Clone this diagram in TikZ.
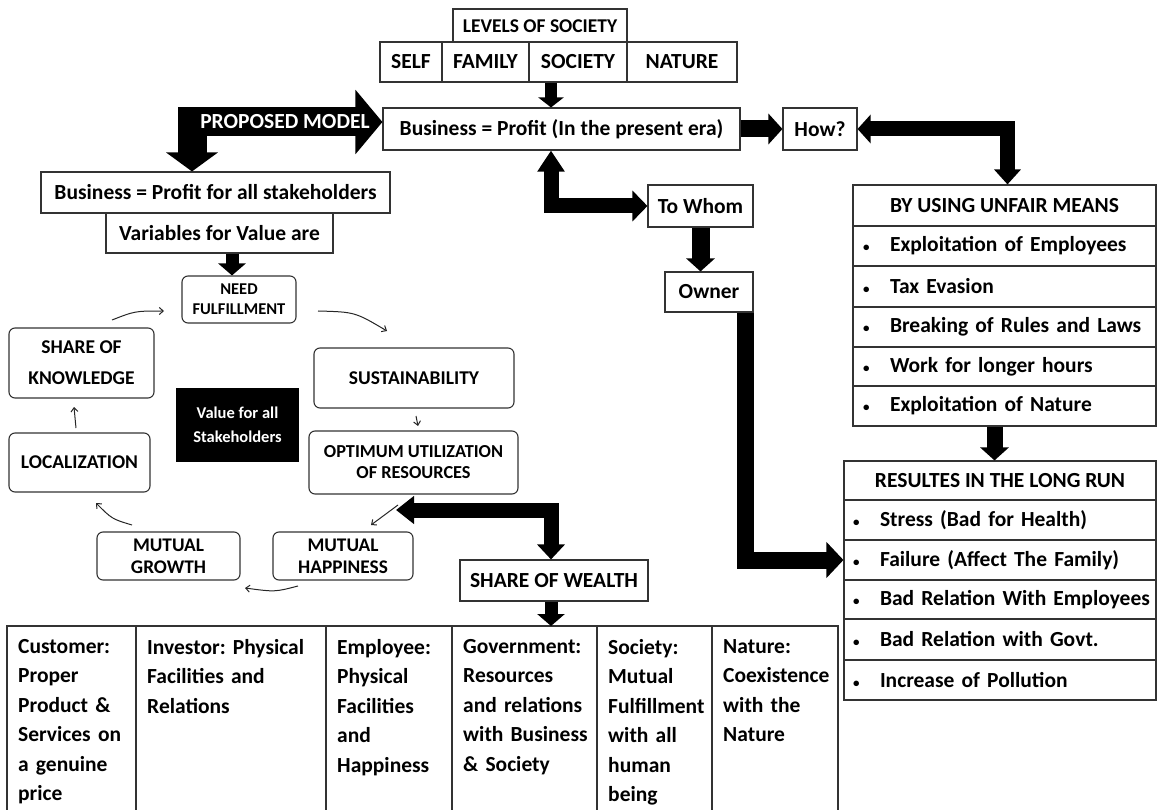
\documentclass[tikz,border=0pt]{standalone}
\usepackage{fontspec}
\setmainfont{Carlito}
\usetikzlibrary{arrows.meta,calc}
\newcommand\bul{{\fontsize{13}{13}\selectfont\textbullet}}
\begin{document}
\frenchspacing
\begin{tikzpicture}[x=1pt,y=-1pt,
  box/.style={draw=black!80,line width=1.1pt,inner sep=0pt,align=center,text=black,fill=white,
    font=\fontsize{21.5}{25}\selectfont\bfseries},
  rbox/.style={box,rounded corners=6pt,font=\fontsize{19.5}{22}\selectfont\bfseries},
  listrow/.style={draw=black!80,line width=1.1pt,inner sep=0pt,align=left,text width=#1,
    font=\fontsize{21.5}{25}\selectfont\bfseries},
  tcell/.style={anchor=north west,inner xsep=11pt,inner ysep=13pt,align=left,text width=200pt,
    font=\fontsize{21.5}{29.5}\selectfont\bfseries},
  fatarr/.style={line width=#1,draw=black,line join=miter},
  cyc/.style={line width=1pt,draw=black!85,-{Straight Barb[length=4pt,width=7pt]}},
  grid/.style={draw=black!80,line width=1.1pt}
]
\useasboundingbox (0,0) rectangle (1157,810);

% ---------- top ----------
\node[box,minimum width=174pt,minimum height=34pt,font=\fontsize{19.5}{22}\selectfont\bfseries] (levels) at (540,26) {LEVELS OF SOCIETY};
\node[box,minimum width=62pt,minimum height=40pt] (self) at (411,62) {SELF};
\node[box,minimum width=87pt,minimum height=40pt] (family) at (485.5,62) {FAMILY};
\node[box,minimum width=98pt,minimum height=40pt] (society) at (578,62) {SOCIETY};
\node[box,minimum width=110pt,minimum height=40pt] (nature) at (682,62) {NATURE};

\node[box,minimum width=357pt,minimum height=42pt] (biz) at (561.5,129) {Business = Profit (In the present era)};
\node[box,minimum width=74pt,minimum height=42pt] (how) at (820,129) {How?};
\node[box,minimum width=105pt,minimum height=42pt] (towhom) at (700.5,206) {To Whom};
\node[box,minimum width=88pt,minimum height=40pt] (owner) at (709,292) {Owner};

\node[box,minimum width=349pt,minimum height=41pt] (pfa) at (215.5,192.5) {Business = Profit for all stakeholders};
\node[box,minimum width=227pt,minimum height=40pt] (vars) at (219.5,233) {Variables for Value are};

% ---------- cycle ----------
\node[rbox,minimum width=114pt,minimum height=47pt,font=\fontsize{16.5}{20}\selectfont\bfseries] (need) at (239,299.5) {NEED\\FULFILLMENT};
\node[rbox,minimum width=145pt,minimum height=70pt,font=\fontsize{19.5}{31}\selectfont\bfseries] (sok) at (81.5,363) {SHARE OF\\KNOWLEDGE};
\node[rbox,minimum width=200pt,minimum height=60pt] (sust) at (414,378) {SUSTAINABILITY};
\node[box,fill=black,draw=black,text=white,minimum width=121pt,minimum height=72pt,font=\fontsize{16.5}{24}\selectfont\bfseries] (val) at (237.5,425) {Value for all\\Stakeholders};
\node[rbox,minimum width=141pt,minimum height=59pt] (loc) at (79.5,462.5) {LOCALIZATION};
\node[rbox,minimum width=209pt,minimum height=63pt,font=\fontsize{18.3}{21}\selectfont\bfseries] (opt) at (413.5,462.5) {OPTIMUM UTILIZATION\\OF RESOURCES};
\node[rbox,minimum width=143pt,minimum height=48pt,font=\fontsize{19.3}{22}\selectfont\bfseries] (mg) at (168.5,556) {MUTUAL\\GROWTH};
\node[rbox,minimum width=140pt,minimum height=48pt,font=\fontsize{19.3}{22}\selectfont\bfseries] (mh) at (343,556) {MUTUAL\\HAPPINESS};

\node[box,minimum width=188pt,minimum height=41pt] (sow) at (554,580.5) {SHARE OF WEALTH};

% ---------- right tables ----------
\node[box,minimum width=303pt,minimum height=41pt] (bu0) at (1004.5,205.5) {BY USING UNFAIR MEANS};
\node[listrow=303pt,minimum height=40pt] (bu1) at (1004.5,246) {\makebox[37pt][l]{\hspace{10pt}\bul}Exploitation of Employees};
\node[listrow=303pt,minimum height=41pt] (bu2) at (1004.5,286.5) {\makebox[37pt][l]{\hspace{10pt}\bul}Tax Evasion};
\node[listrow=303pt,minimum height=40pt] (bu3) at (1004.5,327) {\makebox[37pt][l]{\hspace{10pt}\bul}Breaking of Rules and Laws};
\node[listrow=303pt,minimum height=39pt] (bu4) at (1004.5,366.5) {\makebox[37pt][l]{\hspace{10pt}\bul}Work for longer hours};
\node[listrow=303pt,minimum height=40pt] (bu5) at (1004.5,406) {\makebox[37pt][l]{\hspace{10pt}\bul}Exploitation of Nature};

\node[box,minimum width=312pt,minimum height=39pt] (res0) at (1000,480.5) {RESULTES IN THE LONG RUN};
\node[listrow=312pt,minimum height=40pt] (res1) at (1000,520) {\makebox[36pt][l]{\hspace{9pt}\bul}Stress (Bad for Health)};
\node[listrow=312pt,minimum height=40pt] (res2) at (1000,560) {\makebox[36pt][l]{\hspace{9pt}\bul}Failure (Affect The Family)};
\node[listrow=312pt,minimum height=39pt] (res3) at (1000,599.5) {\makebox[36pt][l]{\hspace{9pt}\bul}Bad Relation With Employees};
\node[listrow=312pt,minimum height=41pt] (res4) at (1000,639.5) {\makebox[36pt][l]{\hspace{9pt}\bul}Bad Relation with Govt.};
\node[listrow=312pt,minimum height=40pt] (res5) at (1000,680) {\makebox[36pt][l]{\hspace{9pt}\bul}Increase of Pollution};

% ---------- bottom table ----------
\draw[grid] (7,626) rectangle (838,816);
\foreach \cx in {136,326,452,597,712} \draw[grid] (\cx,626) -- (\cx,816);
\node[tcell] (c1) at (7,626) {Customer:\\Proper\\Product \&\\Services on\\a genuine\\price};
\node[tcell] (c2) at (136,626) {Investor: Physical\\Facilities and\\Relations};
\node[tcell] (c3) at (326,626) {Employee:\\Physical\\Facilities\\and\\Happiness};
\node[tcell] (c4) at (452,626) {Government:\\Resources\\and relations\\with Business\\\& Society};
\node[tcell] (c5) at (597,626) {Society:\\Mutual\\Fulfillment\\with all\\human\\being};
\node[tcell] (c6) at (712,626) {Nature:\\Coexistence\\with the\\Nature};

% ---------- thick arrows ----------
\coordinate (ax) at (551,0);
\coordinate (pm) at (192,122);
\coordinate (vx) at (232,0);
\coordinate (sw0) at (396,510);
\coordinate (tt) at (551,626);
\coordinate (bx) at ($(bu5.south)+(-10,0)$);

\draw[fatarr=29pt,{Triangle[length=19pt,width=51pt]}-{Triangle[length=27pt,width=63pt]}]
  (pm |- pfa.north) -- (pm) -- (pm -| biz.west);
\node[font=\fontsize{21.5}{25}\selectfont\bfseries,text=white,inner sep=0pt] (pmtext) at (285,122) {PROPOSED MODEL};

\draw[fatarr=12pt,-{Triangle[length=10pt,width=25pt]}] (society.south -| ax) -- (biz.north -| ax);
\draw[fatarr=15pt,{Triangle[length=21pt,width=26pt]}-{Triangle[length=15pt,width=30pt]}] (biz.south -| ax) |- (towhom.west);
\draw[fatarr=17pt,-{Triangle[length=14pt,width=30pt]}] (biz.east) -- (how.west);
\draw[fatarr=15pt,{Triangle[length=13pt,width=28pt]}-{Triangle[length=15pt,width=26pt]}] (how.east) -| ($(bu0.north)+(3,0)$);
\draw[fatarr=18pt,-{Triangle[length=13pt,width=28pt]}] (towhom.south) -- (towhom.south |- owner.north);
\draw[fatarr=17pt,-{Triangle[length=17pt,width=35pt]}] ($(owner.south east)+(-8,0)$) |- (res2.west);
\draw[fatarr=16pt,-{Triangle[length=13pt,width=28pt]}] (bx) -- (bx |- res0.north);
\draw[fatarr=13pt,-{Triangle[length=12pt,width=27pt]}] (vars.south -| vx) -- (need.north -| vx);
\draw[fatarr=15pt,{Triangle[length=18pt,width=27pt]}-{Triangle[length=15pt,width=27pt]}] (sw0) -| ($(sow.north)+(-3,0)$);
\draw[fatarr=13pt,-{Triangle[length=12pt,width=27pt]}] (sow.south -| tt) -- (tt);

% ---------- cycle arrows ----------
\coordinate (a1s) at (112,320); \coordinate (a1e) at (164,311);
\coordinate (a2s) at (318,311); \coordinate (a2e) at (387,331);
\coordinate (a3s) at (416,416); \coordinate (a3e) at (418,426);
\coordinate (a4s) at (398,505); \coordinate (a4e) at (371,525);
\coordinate (a5s) at (298,586); \coordinate (a5e) at (245,588);
\coordinate (a6s) at (132,525); \coordinate (a6e) at (96,503);
\coordinate (a7s) at (76,428); \coordinate (a7e) at (74,407);
\draw[cyc] (a1s) .. controls (135,311) .. (a1e);
\draw[cyc] (a2s) .. controls (355,312) .. (a2e);
\draw[cyc] (a3s) -- (a3e);
\draw[cyc] (a4s) -- (a4e);
\draw[cyc] (a5s) .. controls (275,592) .. (a5e);
\draw[cyc] (a6s) .. controls (112,519) .. (a6e);
\draw[cyc] (a7s) -- (a7e);
\end{tikzpicture}
\end{document}
